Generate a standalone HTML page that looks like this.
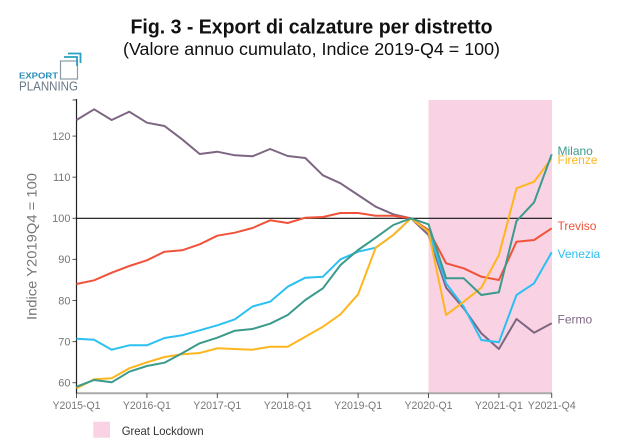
<!DOCTYPE html>
<html><head><meta charset="utf-8"><style>
html,body{margin:0;padding:0;background:#fff;}
svg{display:block;}
text{font-family:"Liberation Sans",Arial,sans-serif;}
</style></head><body>
<svg width="617" height="448" viewBox="0 0 617 448" xmlns="http://www.w3.org/2000/svg">
<rect width="617" height="448" fill="#fff"/>
<!-- title -->
<text x="311.5" y="33.3" text-anchor="middle" font-size="20" font-weight="bold" fill="#111" textLength="362" lengthAdjust="spacingAndGlyphs">Fig. 3 - Export di calzature per distretto</text>
<text x="311.5" y="55" text-anchor="middle" font-size="17.5" fill="#111" textLength="377" lengthAdjust="spacingAndGlyphs">(Valore annuo cumulato, Indice 2019-Q4 = 100)</text>
<!-- logo -->
<text x="19" y="78.3" font-size="8.5" font-weight="bold" fill="#2b8db8" textLength="39" lengthAdjust="spacingAndGlyphs">EXPORT</text>
<text x="19" y="90.7" font-size="12.5" fill="#6b7885" textLength="59" lengthAdjust="spacingAndGlyphs">PLANNING</text>
<rect x="60.5" y="61" width="17" height="18" fill="none" stroke="#8c9aa6" stroke-width="1.2"/>
<polyline points="64,57 77,57 77,66" fill="none" stroke="#2ba0c0" stroke-width="1.8"/>
<polyline points="68,53.5 80.5,53.5 80.5,63" fill="none" stroke="#2ba0c0" stroke-width="1.8"/>
<!-- lockdown band -->
<rect x="428.5" y="100" width="123.5" height="293.3" fill="#f9d2e3"/>
<!-- y axis title -->
<text transform="translate(36.5,246.5) rotate(-90)" text-anchor="middle" font-size="13.5" fill="#777" textLength="147" lengthAdjust="spacingAndGlyphs">Indice Y2019Q4 = 100</text>
<!-- y ticks -->
<g font-size="11" fill="#777" text-anchor="end">
<text x="70.5" y="386.5">60</text>
<text x="70.5" y="345.4">70</text>
<text x="70.5" y="304.3">80</text>
<text x="70.5" y="263.2">90</text>
<text x="70.5" y="222.1">100</text>
<text x="70.5" y="181">110</text>
<text x="70.5" y="139.9">120</text>
</g>
<g stroke="#555" stroke-width="1">
<line x1="72.5" y1="382.7" x2="76.5" y2="382.7"/>
<line x1="72.5" y1="341.6" x2="76.5" y2="341.6"/>
<line x1="72.5" y1="300.5" x2="76.5" y2="300.5"/>
<line x1="72.5" y1="259.4" x2="76.5" y2="259.4"/>
<line x1="72.5" y1="218.3" x2="76.5" y2="218.3"/>
<line x1="72.5" y1="177.2" x2="76.5" y2="177.2"/>
<line x1="72.5" y1="136.1" x2="76.5" y2="136.1"/>
<line x1="72.5" y1="100" x2="76.5" y2="100"/>
</g>
<!-- x axis -->
<line x1="76.5" y1="393.3" x2="552" y2="393.3" stroke="#aaa" stroke-width="2"/>
<g stroke="#555" stroke-width="1">
<line x1="76.5" y1="393" x2="76.5" y2="398"/>
<line x1="146.9" y1="393" x2="146.9" y2="398"/>
<line x1="217.3" y1="393" x2="217.3" y2="398"/>
<line x1="287.7" y1="393" x2="287.7" y2="398"/>
<line x1="358.1" y1="393" x2="358.1" y2="398"/>
<line x1="428.5" y1="393" x2="428.5" y2="398"/>
<line x1="498.9" y1="393" x2="498.9" y2="398"/>
<line x1="551.7" y1="393" x2="551.7" y2="398"/>
</g>
<g font-size="11" fill="#777" text-anchor="middle">
<text x="76.5" y="409" textLength="48" lengthAdjust="spacingAndGlyphs">Y2015-Q1</text>
<text x="146.9" y="409" textLength="48" lengthAdjust="spacingAndGlyphs">Y2016-Q1</text>
<text x="217.3" y="409" textLength="48" lengthAdjust="spacingAndGlyphs">Y2017-Q1</text>
<text x="287.7" y="409" textLength="48" lengthAdjust="spacingAndGlyphs">Y2018-Q1</text>
<text x="358.1" y="409" textLength="48" lengthAdjust="spacingAndGlyphs">Y2019-Q1</text>
<text x="428.5" y="409" textLength="48" lengthAdjust="spacingAndGlyphs">Y2020-Q1</text>
<text x="498.9" y="409" textLength="48" lengthAdjust="spacingAndGlyphs">Y2021-Q1</text>
<text x="551.7" y="409" textLength="48" lengthAdjust="spacingAndGlyphs">Y2021-Q4</text>
</g>
<!-- y axis line -->
<line x1="76.5" y1="99" x2="76.5" y2="393.3" stroke="#222" stroke-width="1.2"/>
<!-- 100 reference line -->
<line x1="76.5" y1="218.3" x2="552" y2="218.3" stroke="#111" stroke-width="1.2"/>
<!-- series -->
<g fill="none" stroke-width="2" stroke-linejoin="round">
<polyline stroke="#7d6682" points="76.5,120 94.1,109.3 111.7,120 129.3,111.7 146.9,122.7 164.5,126 182.1,139.3 199.7,154 217.3,151.7 234.9,155.3 252.5,156.3 270.1,149 287.7,156 305.3,158 322.9,175.3 340.5,183.3 358.1,195 375.7,206.7 393.3,214.3 410.9,218.3 428.5,235 446.1,287.7 463.7,308.3 481.3,333.3 498.9,349 516.5,319 534.1,332.7 551.7,323.3"/>
<polyline stroke="#f0533a" points="76.5,284 94.1,280.3 111.7,272.7 129.3,266 146.9,260.3 164.5,251.7 182.1,250.3 199.7,244.3 217.3,235.7 234.9,232.7 252.5,228 270.1,220.3 287.7,223 305.3,217.7 322.9,217 340.5,213 358.1,213 375.7,215.7 393.3,215.7 410.9,218.3 428.5,230 446.1,263.3 463.7,268.3 481.3,276.7 498.9,280 516.5,241.7 534.1,240 551.7,228.3"/>
<polyline stroke="#2cc0f2" points="76.5,338.7 94.1,339.7 111.7,349.7 129.3,345.3 146.9,345.3 164.5,338 182.1,335.3 199.7,330.3 217.3,325.3 234.9,319.3 252.5,306.5 270.1,301.7 287.7,286.7 305.3,277.7 322.9,276.7 340.5,259.3 358.1,251.7 375.7,247.7 393.3,235 410.9,218.3 428.5,231.7 446.1,283.3 463.7,306.7 481.3,340 498.9,342.3 516.5,295 534.1,283.3 551.7,252.3"/>
<polyline stroke="#ffb61e" points="76.5,388.3 94.1,379.3 111.7,378.3 129.3,368.3 146.9,362.3 164.5,357 182.1,354.3 199.7,353 217.3,348.3 234.9,349 252.5,349.7 270.1,346.7 287.7,346.7 305.3,336.7 322.9,326.7 340.5,314.3 358.1,294.3 375.7,247.7 393.3,235 410.9,218.3 428.5,231.7 446.1,315 463.7,301.7 481.3,287.7 498.9,255 516.5,188.3 534.1,181.7 551.7,158.3"/>
<polyline stroke="#3a9a8c" points="76.5,386.7 94.1,380 111.7,382.3 129.3,371.7 146.9,366 164.5,362.7 182.1,353.3 199.7,343.3 217.3,337.7 234.9,330.7 252.5,329 270.1,323.7 287.7,315 305.3,300 322.9,288.3 340.5,265 358.1,250 375.7,237.7 393.3,225 410.9,218.3 428.5,224.3 446.1,278.3 463.7,278.3 481.3,295 498.9,292.3 516.5,221 534.1,202.3 551.7,154.3"/>
</g>
<!-- series labels -->
<g font-size="12">
<text x="557.5" y="155" fill="#3a9a8c">Milano</text>
<text x="557.5" y="164.2" fill="#ffb61e">Firenze</text>
<text x="557.5" y="230.2" fill="#f0533a">Treviso</text>
<text x="557.5" y="258.2" fill="#2cc0f2">Venezia</text>
<text x="557.5" y="323.5" fill="#7d6682">Fermo</text>
</g>
<!-- legend -->
<rect x="93.3" y="421.7" width="16.7" height="16" fill="#f9d2e3"/>
<text x="121.7" y="435" font-size="12" fill="#333" textLength="82" lengthAdjust="spacingAndGlyphs">Great Lockdown</text>
</svg>
</body></html>
